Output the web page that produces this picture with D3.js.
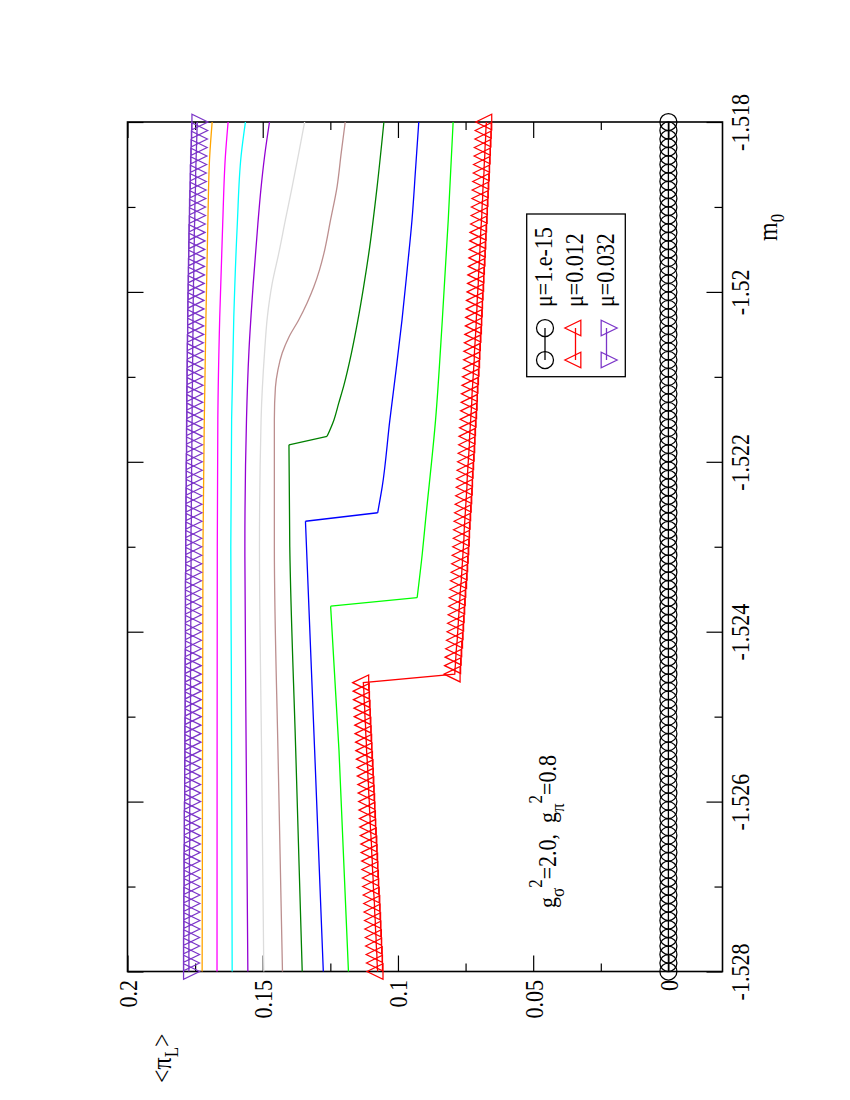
<!DOCTYPE html>
<html><head><meta charset="utf-8">
<script src="https://cdn.jsdelivr.net/npm/d3@7"></script>
<style>
body{margin:0;background:#fff}
svg{display:block}
text{font-family:"Liberation Serif","Times New Roman",serif;fill:#000}
</style>
</head><body>
<svg id="c" width="850" height="1100"></svg>
<script>
// ---------------- DATA ----------------
// m0 grid of the marker series (step 0.0001)
const m0Grid = d3.range(101).map(i => +(-1.528 + i * 0.0001).toFixed(4));

// mu = 1.e-15 (circles)
const vMu1e15 = [
0,0,0,0,0,0,0,0,0,0, 0,0,0,0,0,0,0,0,0,0, 0,0,0,0,0,0,0,0,0,0, 0,0,0,0,0,0,0,0,0,0,
0,0,0,0,0,0,0,0,0,0, 0,0,0,0,0,0,0,0,0,0, 0,0,0,0,0,0,0,0,0,0, 0,0,0,0,0,0,0,0,0,0,
0,0,0,0,0,0,0,0,0,0, 0,0,0,0,0,0,0,0,0,0, 0];

// mu = 0.012 (up triangles)
const vMu012 = [
0.1075,0.1077,0.1078,0.1080,0.1081,0.1083,0.1084,0.1086,0.1087,0.1089,
0.1091,0.1092,0.1094,0.1095,0.1097,0.1098,0.1100,0.1102,0.1103,0.1105,
0.1106,0.1108,0.1109,0.1111,0.1112,0.1114,0.1116,0.1117,0.1119,0.1120,
0.1122,0.1123,0.1125,0.1126,0.1128,
0.0790,0.0788,0.0786,0.0784,0.0781,0.0779,0.0777,0.0775,0.0773,0.0771,
0.0769,0.0766,0.0764,0.0762,0.0760,
0.0758,0.0756,0.0755,0.0753,0.0751,0.0749,0.0747,0.0745,0.0744,0.0742,
0.0740,0.0738,0.0736,0.0735,0.0733,0.0731,0.0729,0.0727,0.0726,0.0724,
0.0722,0.0720,0.0718,0.0717,0.0715,0.0713,0.0711,0.0710,
0.0708,0.0707,0.0705,0.0703,0.0702,0.0700,0.0698,0.0697,0.0695,0.0694,
0.0692,0.0690,0.0689,0.0687,0.0686,0.0684,0.0682,0.0681,0.0679,0.0678,
0.0676,0.0675,0.0673];

// mu = 0.032 (down triangles)
const vMu032 = [
0.1773,0.1773,0.1773,0.1773,0.1773,0.1772,0.1772,0.1772,0.1772,0.1772,0.1771,
0.1771,0.1771,0.1771,0.1771,0.1770,0.1770,0.1770,0.1770,0.1770,0.1769,
0.1769,0.1769,0.1769,0.1769,0.1768,0.1768,0.1768,0.1768,0.1768,0.1767,
0.1767,0.1767,0.1767,0.1767,0.1767,0.1767,0.1767,0.1766,0.1766,0.1766,
0.1766,0.1766,0.1766,0.1766,0.1766,0.1766,0.1765,0.1765,0.1765,0.1765,
0.1765,0.1765,0.1764,0.1764,0.1764,0.1764,0.1763,0.1763,0.1763,0.1763,
0.1762,0.1762,0.1762,0.1762,0.1761,0.1761,0.1761,0.1761,0.1760,0.1760,
0.1760,0.1759,0.1759,0.1759,0.1758,0.1758,0.1758,0.1757,0.1757,0.1756,
0.1756,0.1755,0.1755,0.1754,0.1754,0.1753,0.1753,0.1752,0.1751,0.1751,
0.1750,0.1749,0.1748,0.1748,0.1747,0.1746,0.1745,0.1744,0.1743,0.1742];

// un-titled curves: mu = 0.014 ... 0.030 (knots)
const m0Mu014 = [-1.528,-1.5254,-1.5237,-1.5236,-1.52308,-1.52269,-1.52151,-1.52033,-1.51915,-1.518];
const vMu014  = [0.1183,0.1218,0.1249,0.0929,0.0910,0.0898,0.0861,0.0836,0.0814,0.0796];

const m0Mu016 = [-1.528,-1.5254,-1.5227,-1.5226,-1.52229,-1.52151,-1.52092,-1.52033,-1.51974,-1.51915,-1.51856,-1.518];
const vMu016  = [0.1276,0.1308,0.1342,0.1075,0.1058,0.1030,0.1007,0.0985,0.0966,0.0948,0.0935,0.0923];

const m0Mu018 = [-1.528,-1.5254,-1.523,-1.5218,-1.5217,-1.52151,-1.52131,-1.5211,-1.52072,-1.52033,-1.51994,-1.51955,-1.51876,-1.518];
const vMu018  = [0.1354,0.1378,0.1400,0.1403,0.1262,0.1237,0.1219,0.1200,0.1172,0.1148,0.1127,0.1108,0.1077,0.1052];

const m0Mu020 = [-1.528,-1.5255,-1.523,-1.5215,-1.52112,-1.52092,-1.52072,-1.52053,-1.52033,-1.52013,-1.51994,-1.51974,-1.51955,-1.51915,-1.51876,-1.51837,-1.518];
const vMu020  = [0.1427,0.1443,0.1457,0.1457,0.1453,0.1444,0.1428,0.1403,0.1367,0.1336,0.1311,0.1290,0.1274,0.1249,0.1225,0.1210,0.1195];

const m0Mu022 = [-1.528,-1.5255,-1.523,-1.5215,-1.5207,-1.5203,-1.5199,-1.51955,-1.51915,-1.51876,-1.51837,-1.518];
const vMu022  = [0.1496,0.1504,0.1512,0.1506,0.1493,0.1483,0.1465,0.1441,0.1416,0.1391,0.1367,0.1345];

const m0Mu024 = [-1.528,-1.5255,-1.523,-1.5215,-1.5207,-1.5199,-1.5192,-1.5188,-1.5184,-1.518];
const vMu024  = [0.1555,0.1561,0.1566,0.1560,0.1551,0.1535,0.1518,0.1507,0.1493,0.1475];

const m0Mu026 = [-1.528,-1.5245,-1.523,-1.5215,-1.5203,-1.5192,-1.5184,-1.518];
const vMu026  = [0.1613,0.1616,0.1618,0.1615,0.1607,0.1594,0.1580,0.1564];

const m0Mu028 = [-1.528,-1.523,-1.5215,-1.5203,-1.5192,-1.5184,-1.518];
const vMu028  = [0.1669,0.1668,0.1666,0.1659,0.1648,0.1638,0.1628];

const m0Mu030 = [-1.528,-1.523,-1.5215,-1.5203,-1.5192,-1.5184,-1.518];
const vMu030  = [0.1724,0.1721,0.1716,0.1710,0.1703,0.1696,0.1687];

// ticks
const valTicksMajor = [0, 0.05, 0.1, 0.15, 0.2];
const valTickLabels = ["0", "0.05", "0.1", "0.15", "0.2"];
const valTicksMinor = [0.025, 0.075, 0.125, 0.175];
const m0TicksMajor = [-1.528, -1.526, -1.524, -1.522, -1.52, -1.518];
const m0TickLabels = ["-1.528", "-1.526", "-1.524", "-1.522", "-1.52", "-1.518"];
const m0TicksMinor = [-1.527, -1.525, -1.523, -1.521, -1.519];
const legendLabels = ["\u03bc=1.e-15", "\u03bc=0.012", "\u03bc=0.032"];

// ---------------- DRAW ----------------
const svg = d3.select("#c");
const FS = 22;
const ST = "scale(1,1.15)"; // glyphs slightly taller, like the reference
// rotated (landscape) plot: value axis runs horizontally (right->left), m0 vertically (bottom->top)
const X = d3.scaleLinear().domain([-0.02, 0.2]).range([722.5, 127.5]);
const Y = d3.scaleLinear().domain([-1.528, -1.518]).range([971.5, 122]);

function styleAxis(g) {
  g.select(".domain").remove();
  g.selectAll("line").attr("stroke", "#000").attr("stroke-width", 1.2);
  return g;
}
// value axis (bottom with labels, top mirror)
const gB = svg.append("g").attr("transform", "translate(0,971.5)")
  .call(d3.axisBottom(X).tickValues(valTicksMajor).tickSize(-16)
    .tickFormat(d => valTickLabels[valTicksMajor.indexOf(d)]));
styleAxis(gB);
gB.selectAll("text").attr("font-size", FS).attr("text-anchor", "end")
  .attr("x", 0).attr("y", 0).attr("dy", null).attr("fill", "#000")
  .attr("transform", `translate(9,8.5) rotate(-90) ${ST}`);
styleAxis(svg.append("g").attr("transform", "translate(0,971.5)")
  .call(d3.axisBottom(X).tickValues(valTicksMinor).tickSize(-8).tickFormat("")));
styleAxis(svg.append("g").attr("transform", "translate(0,122)")
  .call(d3.axisTop(X).tickValues(valTicksMajor).tickSize(-16).tickFormat("")));
styleAxis(svg.append("g").attr("transform", "translate(0,122)")
  .call(d3.axisTop(X).tickValues(valTicksMinor).tickSize(-8).tickFormat("")));

// m0 axis (right with labels, left mirror)
const gR = svg.append("g").attr("transform", "translate(722.5,0)")
  .call(d3.axisRight(Y).tickValues(m0TicksMajor).tickSize(-16)
    .tickFormat(d => m0TickLabels[m0TicksMajor.indexOf(d)]));
styleAxis(gR);
gR.selectAll("text").attr("font-size", FS).attr("text-anchor", "middle")
  .attr("x", 0).attr("y", 0).attr("dy", null).attr("fill", "#000")
  .attr("transform", `translate(26,0) rotate(-90) ${ST}`);
styleAxis(svg.append("g").attr("transform", "translate(722.5,0)")
  .call(d3.axisRight(Y).tickValues(m0TicksMinor).tickSize(-8).tickFormat("")));
styleAxis(svg.append("g").attr("transform", "translate(127.5,0)")
  .call(d3.axisLeft(Y).tickValues(m0TicksMajor).tickSize(-16).tickFormat("")));
styleAxis(svg.append("g").attr("transform", "translate(127.5,0)")
  .call(d3.axisLeft(Y).tickValues(m0TicksMinor).tickSize(-8).tickFormat("")));

// frame
svg.append("rect").attr("x", X(0.2)).attr("y", Y(-1.518))
  .attr("width", X(-0.02) - X(0.2)).attr("height", Y(-1.528) - Y(-1.518))
  .attr("fill", "none").attr("stroke", "#000").attr("stroke-width", 1.6);

// curves
const curveLine = d3.line().x(d => X(d[1])).y(d => Y(d[0])).curve(d3.curveMonotoneY);
const linLine = d3.line().x(d => X(d[1])).y(d => Y(d[0]));
function pieces(ms, vs) {
  const pts = ms.map((m, i) => [m, vs[i]]);
  const out = []; let cur = [pts[0]];
  for (let i = 1; i < pts.length; i++) {
    if (pts[i][0] - pts[i - 1][0] < 0.00015) { out.push(cur); out.push([pts[i - 1], pts[i]]); cur = [pts[i]]; }
    else cur.push(pts[i]);
  }
  out.push(cur);
  return out;
}
const lineSeries = [
  [m0Mu014, vMu014, "#00ff00"],
  [m0Mu016, vMu016, "#0000ff"],
  [m0Mu018, vMu018, "#008000"],
  [m0Mu020, vMu020, "#bc8f8f"],
  [m0Mu022, vMu022, "#dcdcdc"],
  [m0Mu024, vMu024, "#9400d3"],
  [m0Mu026, vMu026, "#00ffff"],
  [m0Mu028, vMu028, "#ff00ff"],
  [m0Mu030, vMu030, "#ffa500"]
];
lineSeries.forEach(([ms, vs, col]) => {
  pieces(ms, vs).forEach(p => {
    svg.append("path").attr("d", p.length > 1 ? curveLine(p) : null)
      .attr("fill", "none").attr("stroke", col).attr("stroke-width", 1.3);
  });
});

// marker series
const TRI_H = 16, TRI_B = 15.5;
function triLeft(cx, cy) { // tip pointing to larger value (left)
  return `M${cx - TRI_H * 2 / 3},${cy}L${cx + TRI_H / 3},${cy - TRI_B / 2}L${cx + TRI_H / 3},${cy + TRI_B / 2}Z`;
}
function triRight(cx, cy) {
  return `M${cx + TRI_H * 2 / 3},${cy}L${cx - TRI_H / 3},${cy - TRI_B / 2}L${cx - TRI_H / 3},${cy + TRI_B / 2}Z`;
}
const markerSeries = [
  [vMu1e15, "#000000", "circle"],
  [vMu012, "#ff0000", "left"],
  [vMu032, "#7b35c8", "right"]
];
markerSeries.forEach(([vs, col, kind]) => {
  const pts = m0Grid.map((m, i) => [m, vs[i]]);
  svg.append("path").attr("d", linLine(pts)).attr("fill", "none")
    .attr("stroke", col).attr("stroke-width", 1.3);
  const g = svg.append("g");
  pts.forEach(p => {
    const cx = X(p[1]), cy = Y(p[0]);
    if (kind === "circle") g.append("circle").attr("cx", cx).attr("cy", cy).attr("r", 8.5)
      .attr("fill", "none").attr("stroke", col).attr("stroke-width", 1.25);
    else g.append("path").attr("d", kind === "left" ? triLeft(cx, cy) : triRight(cx, cy))
      .attr("fill", "none").attr("stroke", col).attr("stroke-width", 1.25);
  });
});

// legend
svg.append("rect").attr("x", 526.7).attr("y", 214).attr("width", 98.6).attr("height", 162.7)
  .attr("fill", "none").attr("stroke", "#000").attr("stroke-width", 1.3);
const legCols = [545, 575.5, 606.5];
markerSeries.forEach(([vs, col, kind], i) => {
  const cx = legCols[i], y1 = 360, y2 = 328;
  svg.append("line").attr("x1", cx).attr("x2", cx).attr("y1", y1).attr("y2", y2)
    .attr("stroke", col).attr("stroke-width", 1.3);
  [y1, y2].forEach(cy => {
    if (kind === "circle") svg.append("circle").attr("cx", cx).attr("cy", cy).attr("r", 8.5)
      .attr("fill", "none").attr("stroke", col).attr("stroke-width", 1.25);
    else svg.append("path").attr("d", kind === "left" ? triLeft(cx, cy) : triRight(cx, cy))
      .attr("fill", "none").attr("stroke", col).attr("stroke-width", 1.25);
  });
  svg.append("text").attr("font-size", FS)
    .attr("transform", `translate(${cx + 7},307) rotate(-90) ${ST}`)
    .text(legendLabels[i]);
});

// axis titles
const tM = svg.append("text").attr("font-size", FS + 2).attr("transform", `translate(777,241) rotate(-90) ${ST}`);
tM.append("tspan").text("m");
tM.append("tspan").attr("font-size", 17).attr("dy", 6).text("0");

const tP = svg.append("text").attr("font-size", FS + 2).attr("transform", `translate(171,1083) rotate(-90) ${ST}`);
tP.append("tspan").text("<\u03c0");
tP.append("tspan").attr("font-size", 17).attr("dy", 6).text("L");
tP.append("tspan").attr("dy", -6).text(">");

// annotation
const tA = svg.append("text").attr("font-size", FS).attr("transform", `translate(556,908) rotate(-90) ${ST}`);
tA.append("tspan").text("g");
tA.append("tspan").attr("font-size", 17).attr("dy", 7).text("\u03c3");
tA.append("tspan").attr("font-size", 17).attr("dy", -19).text("2");
tA.append("tspan").attr("dy", 12).text("=2.0,\u00a0\u00a0g");
tA.append("tspan").attr("font-size", 17).attr("dy", 7).text("\u03c0");
tA.append("tspan").attr("font-size", 17).attr("dy", -19).text("2");
tA.append("tspan").attr("dy", 12).text("=0.8");
</script>
</body></html>
